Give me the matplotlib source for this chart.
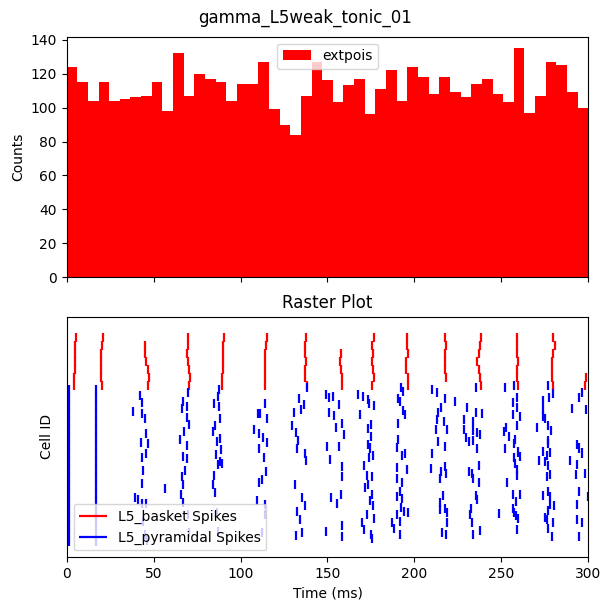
import numpy as np
import matplotlib
matplotlib.use("Agg")
from matplotlib import pyplot as plt

nan = np.nan

# extpois input histogram (counts per bin, 0-300 ms)
hist_edges = np.linspace(0, 300, 50)
extpois_counts = [124, 115, 104, 115, 104, 105, 106, 107, 115, 98,
                  132, 107, 120, 117, 115, 104, 114, 114, 127, 99,
                  90, 84, 107, 127, 116, 103, 113, 117, 96, 111,
                  122, 104, 124, 118, 108, 118, 109, 106, 114, 117,
                  108, 103, 135, 97, 107, 127, 125, 109, 100]

# L5 basket cells: spike time per cell row, one list per gamma cycle
basket_rows = [110, 106, 102, 98, 94, 90, 86]
basket_bursts = [
    [5.2, 5.0, 4.9, 4.7, 4.6, 4.5, 4.5],
    [20.8, 20.5, 20.0, 19.8, 19.7, 20.0, 20.4],
    [nan, 45.0, 45.2, 45.8, 46.6, 47.1, 46.8],
    [69.6, 69.6, 69.5, 69.7, 70.6, 70.7, 70.6],
    [90.6, 90.2, 90.0, 89.9, 89.7, 89.6, 89.5],
    [115.0, 114.6, 114.2, 114.2, 114.2, 113.8, 113.8],
    [137.6, 137.2, 137.0, 137.4, 137.0, 137.2, 138.0],
    [nan, nan, 157.7, 157.0, 157.6, 158.5, 158.2],
    [176.9, 175.7, 176.0, 175.7, 176.0, 176.6, 175.7],
    [195.9, 195.7, 196.4, 195.1, 195.3, 196.1, 196.1],
    [217.5, 217.9, 217.3, 217.5, 217.5, 217.9, nan],
    [238.1, 237.7, 237.3, 236.1, 237.3, 237.7, 238.3],
    [259.1, 258.7, 259.1, 259.5, 258.7, 259.1, 259.7],
    [279.8, 280.6, 279.8, 279.0, 278.9, 279.0, 279.4],
    [nan, nan, nan, nan, nan, 298.8, 298.3],
]

# L5 pyramidal cells: synchronous volleys hit every row
pyr_rows = list(range(8, 85, 4))
pyr_volley_times = [1.5, 16.7]

# L5 pyramidal cells: individual spikes (time ms, cell row)
pyr_times = [
    38.3, 42.2, 43.1, 43.1, 45.0, 45.4, 42.5, 46.9, 43.1, 45.6, 44.1, 43.5, 39.3, 41.2, 43.1, 45.6, 44.1, 45.0, 46.4,
    69.9, 67.1, 66.1, 69.0, 69.3, 70.6, 67.4, 65.2, 69.0, 67.1, 69.3, 68.0, 66.1, 67.1, 65.6, 67.1, 69.9, 70.6, 56.5,
    87.6, 84.6, 87.4, 88.3, 84.0, 88.1, 86.2, 85.9, 88.3, 87.2, 89.4, 84.8, 84.0, 85.3, 86.6, 87.2, 86.8, 85.5, 88.8,
    114.0, 111.1, 115.4, 107.7, 110.8, 113.0, 115.0, 110.5, 113.4, 114.6, 112.1, 110.5, 109.2, 114.0, 114.0, 112.5, 110.2,
    133.7, 130.7, 129.7, 131.8, 133.2, 132.2, 131.3, 132.2, 131.7, 136.7, 134.8, 138.2, 137.0, 137.6, 135.1, 137.0, 134.2, 135.5,
    148.9, 150.8, 153.4, 156.6, 150.8, 153.8, 158.1, 155.0, 159.5, 156.6, 149.9, 151.4, 158.1, 158.5, 157.7, 152.0, 155.3,
    158.1, 149.1, 158.1,
    167.6, 170.6, 173.1, 173.8, 176.7, 168.6, 175.0, 173.1, 175.0, 173.5, 174.4, 176.3, 173.8, 171.2, 172.5, 175.8, 171.6,
    173.1, 175.4, 174.4, 176.3, 172.5, 176.7, 169.6, 171.0, 175.0, 175.8,
    192.2, 193.6, 190.7, 191.7, 193.6, 194.5, 190.3, 190.7, 190.1, 192.6, 194.5, 189.8, 195.5, 189.8, 189.8, 192.6, 191.7,
    192.6, 192.2, 194.1, 196.5, 189.8, 191.7, 191.7, 186.9, 188.3,
    209.9, 212.8, 215.1, 213.7, 212.8, 212.2, 213.4, 209.9, 209.5, 215.4, 214.7, 214.7, 214.7, 215.7, 217.3, 216.9, 218.9,
    223.3, 217.3, 217.3, 217.9, 216.2, 217.5, 218.5, 218.5, 217.9,
    235.3, 230.0, 235.3, 238.6, 228.5, 233.5, 228.5, 233.5, 235.7, 237.6, 229.6, 231.3, 233.5, 235.7, 237.0, 231.5, 232.9,
    233.8, 237.2, 235.3, 235.7, 232.3, 231.9, 232.9, 237.9, 233.8,
    252.0, 257.2, 259.1, 256.4, 258.7, 256.8, 260.7, 259.1, 252.6, 251.4, 254.5, 257.8, 252.0, 257.2, 257.2, 259.7, 260.7,
    257.8, 258.7, 259.1, 253.0, 256.4, 260.7, 258.4, 256.4, 257.2, 258.4, 259.7, 248.6, 259.1,
    277.0, 279.5, 277.5, 274.1, 274.1, 273.7, 275.1, 270.3, 277.0, 278.3, 277.0, 277.0, 273.7, 276.0, 277.9, 271.8, 275.1,
    277.0, 277.9, 276.0, 277.0, 273.7, 277.9, 280.3, 277.9, 277.0, 275.1, 276.4, 279.5, 277.0, 278.9,
    294.7, 296.6, 290.4, 298.7, 293.7, 294.7, 296.6, 289.5, 293.3, 298.1, 292.9, 294.5, 299.5, 293.3, 293.7, 296.2, 294.7,
]
pyr_cells = [
    73.0, 80.6, 77.5, 71.6, 69.3, 61.6, 57.4, 57.0, 50.0, 52.0, 43.3, 37.0, 30.0, 28.7, 27.0, 27.0, 17.8, 11.2, 8.2,
    82.3, 78.0, 74.3, 75.5, 70.0, 66.2, 62.8, 58.8, 55.7, 50.3, 49.3, 43.3, 40.3, 36.2, 31.2, 27.3, 21.3, 12.3, 34.3,
    84.0, 76.6, 75.3, 69.5, 62.6, 59.5, 57.8, 51.2, 47.8, 46.3, 46.8, 40.7, 36.2, 32.3, 22.3, 13.0, 80.5, 66.0, 54.0,
    76.6, 71.8, 69.5, 64.0, 61.7, 60.0, 57.5, 54.5, 50.0, 42.8, 38.7, 37.2, 28.5, 26.2, 21.6, 12.3, 71.6,
    79.3, 72.3, 65.6, 62.3, 58.3, 54.5, 36.6, 22.9, 10.9, 76.5, 73.8, 84.6, 51.8, 48.5, 29.8, 26.0, 18.7, 12.3,
    81.3, 79.6, 80.3, 76.3, 72.4, 70.8, 66.7, 64.7, 61.5, 55.5, 55.3, 48.7, 45.2, 40.4, 31.3, 29.8, 26.8,
    15.8, 12.8, 10.6,
    81.3, 80.3, 79.0, 77.0, 76.0, 71.3, 66.3, 64.5, 60.5, 56.3, 54.6, 51.1, 49.7, 46.1, 40.7, 40.2, 34.7,
    36.3, 31.4, 28.3, 25.7, 21.4, 19.6, 17.2, 13.8, 11.5, 9.2,
    84.6, 83.0, 79.3, 77.8, 73.5, 71.4, 66.9, 58.6, 54.7, 51.1, 51.7, 44.7, 43.8, 39.5, 30.5, 37.6, 32.8,
    29.3, 24.7, 23.0, 22.4, 21.4, 18.0, 11.4, 17.6, 14.3,
    83.6, 82.1, 75.0, 72.3, 68.7, 63.8, 57.6, 52.0, 44.3, 43.0, 39.5, 27.5, 24.0, 12.3, 79.5, 67.9, 63.9,
    77.6, 55.3, 45.4, 41.7, 30.8, 24.5, 22.5, 17.5, 11.3,
    84.8, 75.0, 72.5, 72.0, 68.7, 67.6, 63.8, 63.4, 62.1, 61.3, 59.7, 57.6, 58.3, 54.2, 45.8, 42.7, 41.9,
    39.4, 37.4, 30.8, 28.8, 24.5, 21.6, 17.5, 13.6, 11.6,
    84.8, 85.6, 79.7, 77.5, 74.8, 71.1, 70.1, 65.9, 64.8, 62.6, 60.1, 58.6, 54.2, 56.6, 49.9, 52.6, 50.2,
    46.8, 43.8, 41.0, 37.4, 31.4, 31.6, 27.8, 24.4, 22.6, 20.7, 19.3, 21.8, 13.9,
    85.6, 81.9, 79.7, 78.2, 74.0, 70.3, 69.3, 64.8, 65.9, 63.4, 58.5, 56.6, 52.7, 50.8, 52.3, 48.6, 48.1,
    45.8, 41.4, 40.4, 32.7, 31.1, 30.3, 25.8, 26.3, 23.3, 19.8, 19.0, 17.2, 14.3, 10.5,
    79.7, 82.5, 74.3, 73.8, 56.3, 54.6, 52.1, 48.6, 46.4, 41.8, 41.2, 32.7, 30.3, 26.5, 18.9, 17.6, 10.5,
]

tick_len = 4.5

fig, (ax1, ax2) = plt.subplots(2, 1, figsize=(6.11, 6.11), dpi=100, sharex=True)
fig.subplots_adjust(left=0.109, right=0.963, top=0.94, bottom=0.088, hspace=0.163)
fig.suptitle("gamma_L5weak_tonic_01", y=0.985)

# top: input histogram
ax1.hist(hist_edges[:-1], bins=hist_edges, weights=extpois_counts, color="red", label="extpois")
ax1.set_ylabel("Counts")
ax1.legend(loc="upper center")

# bottom: raster
b_t, b_y = [], []
for burst in basket_bursts:
    for t, row in zip(burst, basket_rows):
        if not np.isnan(t):
            b_t.append(t)
            b_y.append(row)
for t in pyr_volley_times:
    pyr_times = pyr_times + [t] * len(pyr_rows)
    pyr_cells = pyr_cells + pyr_rows

b_y = np.array(b_y, dtype=float)
p_y = np.array(pyr_cells, dtype=float)
ax2.vlines(b_t, b_y - tick_len / 2, b_y + tick_len / 2, color="red", lw=1.6, label="L5_basket Spikes")
ax2.vlines(pyr_times, p_y - tick_len / 2, p_y + tick_len / 2, color="blue", lw=1.6, label="L5_pyramidal Spikes")
ax2.set_xlim(0, 300)
ax2.set_ylim(0, 120.3)
ax2.set_yticks([])
ax2.set_ylabel("Cell ID", labelpad=9)
ax2.set_xlabel("Time (ms)")
ax2.set_title("Raster Plot")
ax2.legend(loc="lower left")

plt.savefig("out.png", dpi=100)
